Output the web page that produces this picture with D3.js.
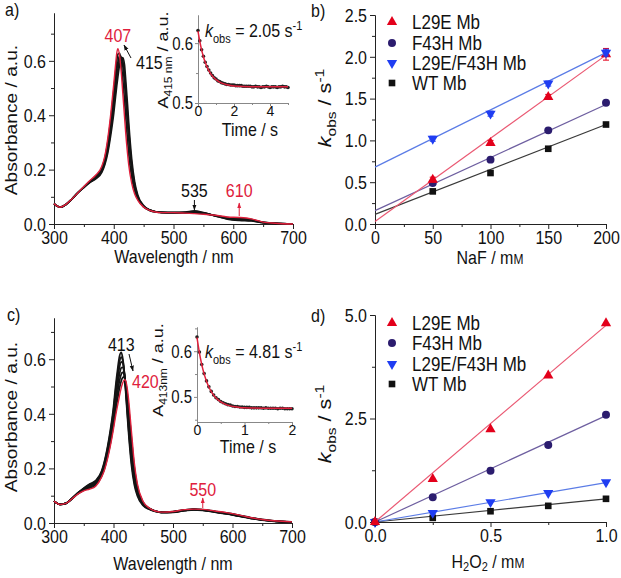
<!DOCTYPE html>
<html><head><meta charset="utf-8">
<script src="https://cdn.jsdelivr.net/npm/d3@7"></script>
<style>
body{margin:0;background:#fff;}
svg{display:block;}
</style></head><body>
<svg id="fig" width="621" height="578"></svg>
<script>
// ---------- DATA ----------
// Panel a / c: UV-vis spectra (wavelength, nm)
const wavelengths = [300,310,320,330,340,350,360,370,380,385,390,395,400,403,405,407,410,413,415,418,420,423,425,430,435,440,450,460,470,480,500,520,535,550,570,590,610,630,650,670,700];
const aStart = [.075,.062,.072,.092,.115,.134,.152,.166,.190,.218,.262,.328,.408,.468,.508,.543,.588,.608,.612,.585,.530,.440,.375,.240,.155,.108,.068,.052,.045,.043,.042,.044,.048,.042,.030,.018,.013,.011,.005,.002,.000];
const aMidA  = [.075,.062,.072,.092,.115,.135,.154,.169,.194,.224,.272,.344,.432,.494,.537,.570,.606,.612,.600,.553,.495,.405,.345,.220,.145,.103,.066,.051,.045,.043,.042,.043,.046,.041,.030,.020,.015,.013,.005,.002,.000];
const aMid1  = [.075,.062,.072,.092,.115,.136,.155,.171,.198,.230,.283,.360,.455,.520,.565,.595,.620,.610,.585,.520,.460,.370,.315,.200,.135,.098,.065,.051,.045,.043,.042,.042,.044,.040,.031,.022,.018,.015,.006,.002,.000];
const aMid2  = [.075,.062,.072,.092,.115,.137,.158,.176,.205,.240,.300,.385,.490,.555,.600,.625,.628,.580,.535,.455,.395,.310,.260,.172,.122,.093,.063,.050,.044,.042,.042,.041,.041,.038,.031,.024,.021,.017,.006,.003,.000];
const aEnd   = [.075,.062,.072,.092,.115,.138,.160,.180,.212,.250,.315,.405,.515,.585,.628,.645,.615,.545,.485,.395,.335,.260,.218,.150,.110,.088,.062,.050,.044,.042,.042,.040,.038,.036,.032,.026,.024,.019,.007,.003,.000];

const cStart = [.080,.068,.072,.090,.110,.128,.143,.155,.190,.228,.280,.345,.425,.490,.530,.565,.610,.625,.610,.555,.495,.400,.340,.215,.140,.100,.063,.050,.042,.038,.039,.045,.048,.046,.040,.033,.025,.017,.010,.006,.003];
const cMidA  = [.080,.068,.072,.090,.110,.127,.141,.153,.187,.223,.273,.336,.413,.474,.513,.547,.590,.608,.600,.556,.503,.414,.355,.230,.150,.106,.066,.051,.043,.039,.040,.046,.049,.047,.041,.034,.026,.018,.011,.007,.003];
const cMid1  = [.080,.068,.072,.089,.109,.125,.138,.150,.183,.218,.266,.326,.400,.458,.496,.528,.570,.590,.588,.555,.510,.428,.370,.245,.160,.112,.068,.052,.043,.039,.040,.046,.049,.047,.041,.034,.026,.018,.011,.007,.003];
const cMidB  = [.080,.068,.072,.089,.109,.124,.135,.147,.180,.212,.258,.316,.386,.439,.474,.504,.545,.568,.570,.550,.513,.442,.388,.265,.173,.119,.070,.053,.044,.040,.041,.047,.050,.048,.042,.035,.027,.019,.012,.007,.003];
const cMid2  = [.080,.068,.072,.088,.108,.122,.132,.143,.176,.206,.250,.305,.372,.420,.452,.480,.520,.545,.552,.545,.515,.455,.405,.285,.185,.125,.072,.053,.044,.040,.041,.047,.050,.048,.042,.036,.028,.019,.012,.007,.003];
const cMidC  = [.080,.068,.072,.088,.107,.120,.128,.139,.172,.201,.243,.295,.359,.403,.431,.456,.493,.520,.531,.535,.520,.475,.433,.313,.203,.135,.075,.054,.044,.040,.042,.048,.051,.049,.043,.037,.029,.020,.013,.008,.004];
const cEnd   = [.080,.068,.072,.088,.106,.118,.124,.135,.168,.195,.235,.285,.345,.385,.410,.432,.465,.495,.510,.524,.524,.495,.460,.340,.220,.145,.078,.055,.044,.040,.042,.049,.051,.050,.044,.038,.030,.020,.013,.008,.004];

// Insets: kinetic traces
const timeA = [0,0.1,0.2,0.3,0.4,0.5,0.6,0.7,0.8,0.9,1.0,1.1,1.2,1.3,1.4,1.5,1.6,1.7,1.8,1.9,2.0,2.1,2.2,2.3,2.4,2.5,2.6,2.7,2.8,2.9,3.0,3.1,3.2,3.3,3.4,3.5,3.6,3.7,3.8,3.9,4.0,4.1,4.2,4.3,4.4,4.5,4.6,4.7,4.8,4.9,5.0];
const absA  = [.621,.604,.589,.578,.568,.561,.555,.550,.546,.542,.540,.537,.536,.534,.533,.532,.531,.531,.530,.530,.530,.529,.529,.529,.529,.528,.528,.528,.528,.528,.527,.527,.528,.527,.527,.526,.527,.527,.528,.527,.526,.527,.527,.527,.526,.527,.527,.528,.527,.527,.526];
const fitTimeA = [0,0.1,0.2,0.3,0.4,0.5,0.6,0.7,0.8,0.9,1.0,1.2,1.4,1.6,1.8,2.0,2.5,3.0,3.5,4.0,4.5,5.0];
const fitAbsA  = [0.620,0.6028,0.5887,0.5773,0.5680,0.5604,0.5542,0.5491,0.5450,0.5417,0.5390,0.5349,0.5323,0.5305,0.5293,0.5285,0.5275,0.5272,0.5271,0.5270,0.5270,0.5270];

const timeC = [0,0.05,0.1,0.15,0.2,0.25,0.3,0.35,0.4,0.45,0.5,0.55,0.6,0.65,0.7,0.75,0.8,0.85,0.9,0.95,1.0,1.05,1.1,1.15,1.2,1.25,1.3,1.35,1.4,1.45,1.5,1.55,1.6,1.65,1.7,1.75,1.8,1.85,1.9,1.95,2.0];
const absC  = [.631,.598,.571,.551,.535,.522,.512,.504,.498,.494,.490,.487,.485,.483,.482,.480,.479,.479,.478,.478,.477,.477,.477,.476,.476,.476,.476,.476,.475,.476,.475,.475,.475,.475,.474,.475,.475,.474,.474,.474,.474];
const fitTimeC = [0,0.05,0.1,0.15,0.2,0.25,0.3,0.35,0.4,0.45,0.5,0.6,0.7,0.8,0.9,1.0,1.2,1.4,1.6,1.8,2.0];
const fitAbsC  = [0.630,0.5969,0.5708,0.5503,0.5342,0.5216,0.5116,0.5038,0.4976,0.4928,0.4890,0.4836,0.4803,0.4783,0.4770,0.4763,0.4755,0.4752,0.4751,0.4751,0.4751];

// Panel b: kobs vs NaF
const series = ["L29E Mb","F43H Mb","L29E/F43H Mb","WT Mb"];
const naf = [50,100,150,200];
const bL29E = [0.53,0.97,1.52,2.03];
const bF43H = [0.49,0.77,1.12,1.45];
const bDouble = [1.02,1.32,1.68,2.05];
const bWT = [0.39,0.61,0.90,1.19];
const bErrL29E = [0.03,0.03,0.03,0.07];
const bErrDouble = [0.03,0.03,0.03,0.04];
const bFitX = [0,200];
const bFitL29E = [0.03,2.02];
const bFitF43H = [0.16,1.43];
const bFitDouble = [0.68,2.05];
const bFitWT = [0.115,1.19];

// Panel d: kobs vs H2O2
const h2o2 = [0,0.25,0.5,0.75,1.0];
const dL29E = [0,1.04,2.24,3.54,4.80];
const dF43H = [0,0.60,1.24,1.86,2.59];
const dDouble = [0,0.22,0.48,0.70,0.96];
const dWT = [0,0.10,0.26,0.39,0.56];
const dFitX = [0,1];
const dFitL29E = [0,4.75];
const dFitF43H = [0,2.57];
const dFitDouble = [0,0.95];
const dFitWT = [0,0.56];

// ---------- DRAW ----------
const FONT = '"Liberation Sans", Arial, Helvetica, sans-serif';
const svg = d3.select("#fig").attr("font-family", FONT);
const defs = svg.append("defs");
function marker(id, color){
  defs.append("marker").attr("id",id).attr("viewBox","0 0 10 10").attr("refX",9).attr("refY",5)
    .attr("markerWidth",6).attr("markerHeight",6).attr("orient","auto")
    .append("path").attr("d","M0,1.5 L10,5 L0,8.5 z").attr("fill",color);
}
marker("arK","#111"); marker("arR","#e0203c");

const RED="#e3001b", PUR="#2b1c6e", BLU="#1f3df2", BLK="#111";
const LRED="#ea5872", LPUR="#6e5fa0", LBLU="#5b7ce6", LBLK="#3a3a3a";

function axis(scale, orient, at, major, minor, fmt, o){
  o = Object.assign({len:5, mlen:3, color:"#222", fs:16, pad:3}, o||{});
  const pos = orient==="bottom" ? `translate(0,${at})` : `translate(${at},0)`;
  const mk = orient==="bottom" ? d3.axisBottom : d3.axisLeft;
  const g1 = svg.append("g").attr("transform",pos)
    .call(mk(scale).tickValues(minor).tickSize(o.mlen).tickFormat("").tickSizeOuter(0));
  const g2 = svg.append("g").attr("transform",pos)
    .call(mk(scale).tickValues(major).tickSize(o.len).tickPadding(o.pad).tickFormat(fmt).tickSizeOuter(0));
  [g1,g2].forEach(g=>{
    g.attr("font-family",null).attr("font-size",null);
    g.select(".domain").attr("stroke",o.color).attr("stroke-width",1);
    g.selectAll("line").attr("stroke",o.color);
    g.selectAll("text").attr("fill","#111").attr("font-size",o.fs).attr("font-family",FONT);
    if(o.noStretch) g.selectAll("text").classed("nostretch",true);
  });
}
function text(x,y,str,o){
  o=o||{};
  const t=svg.append("text").attr("x",x).attr("y",y).attr("font-size",o.fs||16)
    .attr("fill",o.fill||"#111").attr("text-anchor",o.anchor||"start").text(str);
  if(o.rot) t.attr("transform",`rotate(${o.rot},${x},${y})`);
  return t;
}
function rich(x,y,parts,o){
  o=o||{};
  const t=svg.append("text").attr("x",x).attr("y",y).attr("font-size",o.fs||16)
    .attr("fill",o.fill||"#111").attr("text-anchor",o.anchor||"start");
  if(o.rot) t.attr("transform",`rotate(${o.rot},${x},${y})`);
  let cur=0;
  parts.forEach(p=>{
    const sh = p.sub? (p.subDy||4) : p.sup? -(p.supDy||6) : 0;
    const ts=t.append("tspan").attr("dy",sh-cur).text(p.t);
    cur=sh;
    if(p.fs) ts.attr("font-size",p.fs);
    if(p.it) ts.attr("font-style","italic");
  });
  return t;
}
function arrow(x1,y1,x2,y2,id,color){
  svg.append("line").attr("x1",x1).attr("y1",y1).attr("x2",x2).attr("y2",y2)
    .attr("stroke",color).attr("stroke-width",1).attr("marker-end",`url(#${id})`);
}
const zip=(xs,ys)=>xs.map((x,i)=>[x,ys[i]]);

// ===== Panel a =====
const xa=d3.scaleLinear().domain([300,700]).range([54,293]);
const ya=d3.scaleLinear().domain([0,0.776]).range([224,13]);
axis(xa,"bottom",224,[300,400,500,600,700],[350,450,550,650],d3.format("d"));
axis(ya,"left",54,[0,0.2,0.4,0.6],[0.1,0.3,0.5,0.7],d3.format(".1f"));
const la=d3.line().x(d=>xa(d[0])).y(d=>ya(d[1])).curve(d3.curveMonotoneX);
[aStart,aMidA,aMid1,aMid2].forEach(s=>svg.append("path").attr("d",la(zip(wavelengths,s))).attr("fill","none").attr("stroke","#151515").attr("stroke-width",1.7));
svg.append("path").attr("d",la(zip(wavelengths,aEnd))).attr("fill","none").attr("stroke","#e0203c").attr("stroke-width",1.4);
text(5,15,"a)",{fs:16});
text(17,120,"Absorbance / a.u.",{fs:16,anchor:"middle",rot:-90});
text(174,262,"Wavelength / nm",{fs:16,anchor:"middle"});
text(xa(407),41,"407",{fill:"#e0203c",anchor:"middle"});
text(136,68,"415");
arrow(131,58,124,45,"arK","#111");
text(xa(535),196,"535",{anchor:"middle"});
arrow(xa(535),200,xa(535),210,"arK","#111");
text(xa(610),196,"610",{anchor:"middle",fill:"#e0203c"});
arrow(xa(610),216,xa(610),203,"arR","#e0203c");

// inset a
const xia=d3.scaleLinear().domain([0,5]).range([198,288]);
const yia=d3.scaleLinear().domain([0.5,0.647]).range([103,15]);
axis(xia,"bottom",103,[0,2,4],[1,3,5],d3.format("d"),{color:"#888",len:3,mlen:2,fs:14,pad:0,noStretch:1});
axis(yia,"left",198,[0.5,0.6],[0.55],d3.format(".1f"),{color:"#888",len:3,mlen:2,fs:15,pad:2});
svg.append("g").selectAll("circle").data(zip(timeA,absA)).join("circle")
  .attr("cx",d=>xia(d[0])).attr("cy",d=>yia(d[1])).attr("r",1.8).attr("fill","#222");
svg.append("path").attr("d",d3.line().x(d=>xia(d[0])).y(d=>yia(d[1])).curve(d3.curveMonotoneX)(zip(fitTimeA,fitAbsA)))
  .attr("fill","none").attr("stroke","#e0203c").attr("stroke-width",1.5);
rich(168,60,[{t:"A"},{t:"415 nm",sub:1,fs:10},{t:" / a.u."}],{anchor:"middle",rot:-90,fs:15});
text(250,135,"Time / s",{anchor:"middle"});
rich(205,36,[{t:"k",it:1},{t:"obs",sub:1,fs:11,subDy:5},{t:" = 2.05 s"},{t:"-1",sup:1,fs:11}]);

// ===== Panel b =====
const xb=d3.scaleLinear().domain([0,200]).range([375,606]);
const yb=d3.scaleLinear().domain([0,2.5]).range([224,15]);
axis(xb,"bottom",224,[0,50,100,150,200],[25,75,125,175],d3.format("d"));
axis(yb,"left",375,[0,0.5,1.0,1.5,2.0,2.5],[0.25,0.75,1.25,1.75,2.25],d3.format(".1f"));
const symUp=d3.symbol().type(d3.symbolTriangle).size(46)();
const symDn=symUp;
const symCi=d3.symbol().type(d3.symbolCircle).size(50)();
const symSq=d3.symbol().type(d3.symbolSquare).size(44)();
const specs=[
  {name:series[0],sym:symUp,rot:0,col:RED,lc:LRED},
  {name:series[1],sym:symCi,rot:0,col:PUR,lc:LPUR},
  {name:series[2],sym:symDn,rot:180,col:BLU,lc:LBLU},
  {name:series[3],sym:symSq,rot:0,col:BLK,lc:LBLK}];
function drawSeries(x,y,xs,ys,spec,fitX,fitY,errs){
  svg.append("path").attr("d",d3.line().x(d=>x(d[0])).y(d=>y(d[1]))(zip(fitX,fitY)))
    .attr("stroke",spec.lc).attr("stroke-width",1.2).attr("fill","none");
  if(errs){
    xs.forEach((xv,i)=>{
      const y1=y(ys[i]-errs[i]), y2=y(ys[i]+errs[i]), cx=x(xv);
      svg.append("path").attr("d",`M${cx},${y1}V${y2}M${cx-3},${y1}H${cx+3}M${cx-3},${y2}H${cx+3}`)
        .attr("stroke",spec.col).attr("stroke-width",1).attr("fill","none");
    });
  }
  svg.append("g").selectAll("path").data(zip(xs,ys)).join("path")
    .attr("d",spec.sym).attr("fill",spec.col)
    .attr("transform",d=>`translate(${x(d[0])},${y(d[1])}) rotate(${spec.rot})`);
}
drawSeries(xb,yb,naf,bWT,specs[3],bFitX,bFitWT);
drawSeries(xb,yb,naf,bF43H,specs[1],bFitX,bFitF43H);
drawSeries(xb,yb,naf,bL29E,specs[0],bFitX,bFitL29E,bErrL29E);
drawSeries(xb,yb,naf,bDouble,specs[2],bFitX,bFitDouble,bErrDouble);
function legend(x0,ys){
  specs.forEach((s,i)=>{
    svg.append("path").attr("d",s.sym).attr("fill",s.col).attr("transform",`translate(${x0},${ys[i]}) rotate(${s.rot})`);
    text(x0+20,ys[i]+6,s.name,{fs:17});
  });
}
legend(392,[22,43,63,83]);
text(311,16,"b)",{fs:16});
rich(331,108,[{t:"k",it:1},{t:"obs",sub:1,fs:13,subDy:5},{t:" / s"},{t:"-1",sup:1,fs:13,supDy:7}],{anchor:"middle",rot:-90,fs:18});
rich(490,263,[{t:"NaF / m"},{t:"M",fs:12}],{anchor:"middle"});

// ===== Panel c =====
const xc=d3.scaleLinear().domain([300,700]).range([54,292]);
const yc=d3.scaleLinear().domain([0,0.751]).range([523,318]);
axis(xc,"bottom",523,[300,400,500,600,700],[350,450,550,650],d3.format("d"));
axis(yc,"left",54,[0,0.2,0.4,0.6],[0.1,0.3,0.5,0.7],d3.format(".1f"));
const lc=d3.line().x(d=>xc(d[0])).y(d=>yc(d[1])).curve(d3.curveMonotoneX);
[cStart,cMidA,cMid1,cMidB,cMid2,cMidC].forEach(s=>svg.append("path").attr("d",lc(zip(wavelengths,s))).attr("fill","none").attr("stroke","#151515").attr("stroke-width",1.7));
svg.append("path").attr("d",lc(zip(wavelengths,cEnd))).attr("fill","none").attr("stroke","#e0203c").attr("stroke-width",1.4);
text(7,320,"c)",{fs:16});
text(17,417,"Absorbance / a.u.",{fs:16,anchor:"middle",rot:-90});
text(173,569,"Wavelength / nm",{fs:16,anchor:"middle"});
text(xc(413),350,"413",{anchor:"middle"});
arrow(129,354,133,371,"arK","#111");
text(132,387,"420",{fill:"#e0203c"});
text(xc(550),495,"550",{anchor:"middle",fill:"#e0203c"});
arrow(xc(550),508,xc(550),498,"arR","#e0203c");

// inset c
const xic=d3.scaleLinear().domain([0,2]).range([197,292]);
const yic=d3.scaleLinear().domain([0.445,0.653]).range([422,327]);
axis(xic,"bottom",422,[0,1,2],[0.5,1.5],d3.format("d"),{color:"#888",len:3,mlen:2,fs:14,pad:0,noStretch:1});
axis(yic,"left",197,[0.5,0.6],[0.55,0.45,0.65],d3.format(".1f"),{color:"#888",len:3,mlen:2,fs:15,pad:2});
svg.append("g").selectAll("circle").data(zip(timeC,absC)).join("circle")
  .attr("cx",d=>xic(d[0])).attr("cy",d=>yic(d[1])).attr("r",1.8).attr("fill","#222");
svg.append("path").attr("d",d3.line().x(d=>xic(d[0])).y(d=>yic(d[1])).curve(d3.curveMonotoneX)(zip(fitTimeC,fitAbsC)))
  .attr("fill","none").attr("stroke","#e0203c").attr("stroke-width",1.5);
rich(163,370,[{t:"A"},{t:"413nm",sub:1,fs:10},{t:" / a.u."}],{anchor:"middle",rot:-90,fs:15});
text(248,452,"Time / s",{anchor:"middle"});
rich(205,357,[{t:"k",it:1},{t:"obs",sub:1,fs:11,subDy:5},{t:" = 4.81 s"},{t:"-1",sup:1,fs:11}]);

// ===== Panel d =====
const xd=d3.scaleLinear().domain([0,1]).range([375,606]);
const yd=d3.scaleLinear().domain([0,5]).range([522,315]);
axis(xd,"bottom",522,[0,0.5,1],[0.25,0.75],d3.format(".1f"));
axis(yd,"left",375,[0,2.5,5],[1.25,3.75],d3.format(".1f"));
drawSeries(xd,yd,h2o2,dWT,specs[3],dFitX,dFitWT);
drawSeries(xd,yd,h2o2,dDouble,specs[2],dFitX,dFitDouble);
drawSeries(xd,yd,h2o2,dF43H,specs[1],dFitX,dFitF43H);
drawSeries(xd,yd,h2o2,dL29E,specs[0],dFitX,dFitL29E);
legend(392,[323,343,364,384]);
text(311,321,"d)",{fs:16});
rich(331,424,[{t:"k",it:1},{t:"obs",sub:1,fs:13,subDy:5},{t:" / s"},{t:"-1",sup:1,fs:13,supDy:7}],{anchor:"middle",rot:-90,fs:18});
rich(488,567,[{t:"H"},{t:"2",sub:1,fs:11,subDy:3},{t:"O"},{t:"2",sub:1,fs:11,subDy:3},{t:" / m"},{t:"M",fs:12}],{anchor:"middle"});

// Text in the reference is taller than it is wide: stretch labels vertically about their centre.
const STRETCH=1.2;
svg.selectAll("text:not(.nostretch)").each(function(){
  const el=this, bb=el.getBBox();
  const tr=el.getAttribute("transform")||"";
  let cy;
  const m=/rotate\(([-\d.]+),([-\d.]+),([-\d.]+)\)/.exec(tr);
  if(m){ const x=+m[2], y=+m[3]; cy = y - ((bb.x+bb.width/2) - x); }
  else cy = bb.y+bb.height/2;
  el.setAttribute("transform",`translate(0,${cy}) scale(1,${STRETCH}) translate(0,${-cy}) ${tr}`);
});
</script>
</body></html>
